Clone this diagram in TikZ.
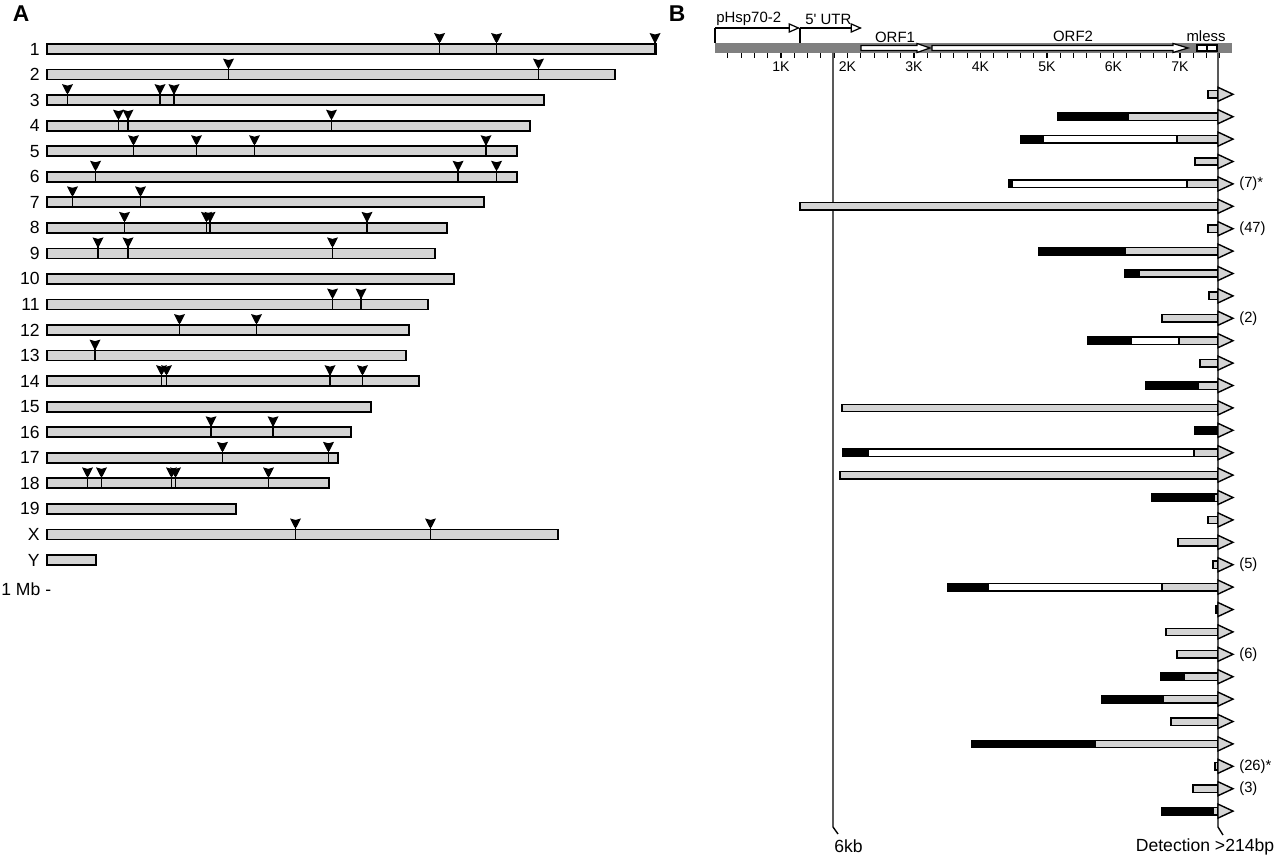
\documentclass[tikz,border=0pt]{standalone}
\usepackage{fontspec}
\setmainfont{Liberation Sans}
\usetikzlibrary{positioning,arrows.meta}
\definecolor{chrgray}{HTML}{D4D4D4}
\definecolor{mapgray}{HTML}{808080}
\tikzstyle{panel} = [inner sep=0,font=\fontsize{13}{15}\selectfont\bfseries]
\tikzstyle{chrlabel} = [anchor=east,inner sep=0,font=\fontsize{10}{12}\selectfont]
\tikzstyle{chrom} = [draw,fill=chrgray,line width=1pt]
\tikzstyle{stem} = [line width=1pt]
\tikzstyle{seg} = [draw,line width=0.8pt]
\tikzstyle{count} = [anchor=west,inner sep=0,font=\fontsize{8.4}{10}\selectfont]
\tikzstyle{maplabel} = [inner sep=0,font=\fontsize{8.5}{10}\selectfont]
\tikzstyle{klabel} = [inner sep=0,font=\fontsize{8}{10}\selectfont]
\tikzstyle{orf} = [draw,fill=white,line width=0.7pt]
\tikzstyle{openarrow} = [line width=0.7pt,-{Triangle[open,length=6.5pt,width=5.5pt]}]
\tikzstyle{guide} = [line width=0.8pt]

\begin{document}
\begin{tikzpicture}[x=0.02cm,y=-0.02cm]
    \useasboundingbox (0,0) rectangle (1280,858);
    \node [panel] (pa) at (21,14) {A};
    \node [panel] (pb) at (677,14) {B};

    % chromosomes
    \foreach \lab/\len [count=\i] in {1/656,2/615,3/544,4/530,5/517,6/517,7/484,8/447,9/435,10/454,11/428,12/409,13/406,14/419,15/371,16/351,17/338,18/329,19/236,X/558,Y/96} {
        \pgfmathsetmacro\y{49+25.55*(\i-1)}
        \node [chrlabel] (chr\i) at (40,\y) {\lab};
        \draw [chrom] (47,\y-5) rectangle (\len,\y+5);
    }
    \foreach \r/\x in {1/439.5,1/496.5,1/655,2/228.5,2/538.5,3/67.5,3/160,3/174,4/118.5,4/128,4/331.5,5/133.5,5/196.5,5/254.5,5/486,6/95.5,6/458,6/496.5,7/72.5,7/140.5,8/124.5,8/206.5,8/210,8/367,9/98,9/128,9/332.5,11/332.5,11/361,12/179.5,12/256.5,13/95,14/161.5,14/166.5,14/330,14/362.5,16/211,16/273,17/222.5,17/328.5,18/87.5,18/101.5,18/171.5,18/175.5,18/268.5,20/295.5,20/430.5} {
        \pgfmathsetmacro\y{49+25.55*(\r-1)}
        \draw [stem] (\x,\y-10) -- (\x,\y+5);
        \fill (\x-5.5,\y-16) -- (\x,\y-14.5) -- (\x+5.5,\y-16) -- (\x+1,\y-7) -- (\x-1,\y-7) -- cycle;
    }
    \node [chrlabel,anchor=west] (scale) at (1,589) {1 Mb -};

    % element map
    \fill [mapgray] (714.5,43) rectangle (1232,53);
    \draw [seg] (715,43) -- (715,28);
    \draw [seg] (800,28) -- (800,43);
    \draw [openarrow] (715,28) -- (800,28);
    \draw [openarrow] (800,28) -- (862,28);
    \draw [orf] (861,45.5) -- (917,45.5) -- (917,43.5) -- (930,48) -- (917,52.5) -- (917,50.5) -- (861,50.5) -- cycle;
    \draw [orf] (932,45.5) -- (1173,45.5) -- (1173,43.5) -- (1188,48) -- (1173,52.5) -- (1173,50.5) -- (932,50.5) -- cycle;
    \draw [orf] (1197,45) rectangle (1207,51);
    \draw [orf] (1207,45) rectangle (1217,51);
    \node [maplabel,anchor=west] (phsp) at (716,19) {pHsp70-2};
    \node [maplabel,anchor=west] (utr) at (805,19) {5\textquotesingle{} UTR};
    \node [maplabel] (orf1) at (895,37) {ORF1};
    \node [maplabel] (orf2) at (1073,36) {ORF2};
    \node [maplabel] (mless) at (1206,36) {mless};
    \foreach \k in {1,...,38}
        \draw [line width=0.6pt] (714.5+13.3*\k,53) -- (714.5+13.3*\k,58);
    \foreach \k in {1,...,7}
        \node [klabel] (k\k) at (714.5+66.5*\k,67) {\k K};

    % size guides
    \coordinate (kbtop) at (833,53);
    \coordinate (kbknee) at (833,827);
    \coordinate (dettop) at (1218,53);
    \coordinate (detknee) at (1218,827);
    \node [chrlabel,anchor=west] (kb) at (834,846) {6kb};
    \node [chrlabel,anchor=center] (det) at (1205,847) {Detection >214bp};
    \draw [guide] (kbtop) -- (kbknee) -- (838,834);
    \draw [guide] (dettop) -- (detknee) -- (1223,835);

    % insertions
    \foreach \s/\b/\w [count=\i] in {1208/1208/1208,1058/1128/1128,1021/1043/1177,1195/1195/1195,1009/1012/1187,800/800/800,1208/1208/1208,1039/1125/1125,1125/1139/1139,1209/1209/1209,1162/1162/1162,1088/1131/1179,1200/1200/1200,1146/1198/1198,842/842/842,1195/1218/1218,843/868/1194,840/840/840,1152/1214/1214,1208/1208/1208,1178/1178/1178,1213/1213/1213,948/988/1162,1216/1216/1216,1166/1166/1166,1177/1177/1177,1161/1184/1184,1102/1163/1163,1171/1171/1171,972/1095/1095,1215/1215/1215,1193/1193/1193,1162/1213/1213} {
        \pgfmathsetmacro\y{94.3+22.4*(\i-1)}
        \draw [seg,fill=black] (\s,\y-3.7) rectangle (\b,\y+3.7);
        \draw [seg,fill=white] (\b,\y-3.7) rectangle (\w,\y+3.7);
        \draw [seg,fill=chrgray] (\w,\y-3.7) rectangle (1218,\y+3.7);
        \draw [seg,fill=chrgray] (1218,\y-7) -- (1233,\y) -- (1218,\y+7) -- cycle;
    }
    \foreach \r/\t in {5/(7)*,7/(47),11/(2),22/(5),26/(6),31/(26)*,32/(3)} {
        \pgfmathsetmacro\y{94.3+22.4*(\r-1)}
        \node [count] (cnt\r) at (1239,\y) {\t};
    }
\end{tikzpicture}
\end{document}
